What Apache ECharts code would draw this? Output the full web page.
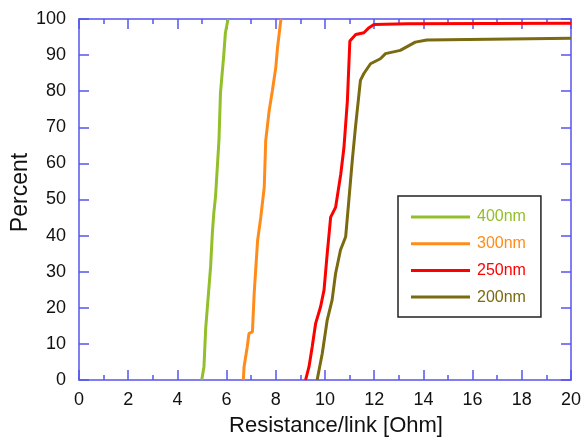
<!DOCTYPE html>
<html><head><meta charset="utf-8">
<script src="https://cdn.jsdelivr.net/npm/echarts@6/dist/echarts.min.js"></script>
<style>html,body{margin:0;padding:0;background:#fff}#c{width:583px;height:440px}</style>
</head><body><div id="c"></div>
<script>
const names = ['400nm', '300nm', '250nm', '200nm'];
const colors = ['#92bf2a', '#ff8c1a', '#ff0000', '#7a6a10'];
const x400 = [4.99, 5.08, 5.15, 5.21, 5.35, 5.42, 5.48, 5.55, 5.69, 5.75, 5.82, 5.88, 5.95, 6.06];
const y400 = [0, 3.7, 14.3, 14.8, 31.4, 40.6, 46.2, 50.8, 66.5, 79.4, 85, 89.6, 96.1, 100];
const x300 = [6.68, 6.71, 6.84, 6.91, 7.05, 7.12, 7.26, 7.39, 7.53, 7.59, 7.73, 7.86, 8.00, 8.07, 8.20, 8.23];
const y300 = [0, 3.7, 9.2, 12.9, 13.3, 23.9, 38.6, 45.1, 53.4, 66.3, 74.6, 80.1, 86.6, 92.1, 99.5, 100];
const x250 = [9.21, 9.35, 9.48, 9.62, 9.82, 9.96, 10.09, 10.23, 10.43, 10.64, 10.77, 10.91, 11.01, 11.25, 11.58, 11.79, 11.99, 13.34, 20];
const y250 = [0, 3.7, 9.2, 15.7, 20.3, 24.9, 35, 45.1, 47.8, 57, 64.4, 77.3, 93.9, 95.7, 96.2, 97.6, 98.5, 98.7, 98.8];
const x200 = [9.68, 9.89, 10.09, 10.29, 10.43, 10.63, 10.84, 10.97, 11.11, 11.24, 11.44, 11.58, 11.85, 12.25, 12.46, 13.06, 13.67, 14.14, 20];
const y200 = [0, 7.4, 16.6, 22.2, 29.5, 36, 39.7, 49.8, 60.9, 70.1, 83, 84.9, 87.6, 89, 90.4, 91.3, 93.6, 94.2, 94.7];
const xs = [x400, x300, x250, x200];
const ys = [y400, y300, y250, y200];

const axisColor = '#5555ee';
const font = 'Arial, "Liberation Sans", sans-serif';
const chart = echarts.init(document.getElementById('c'));
const baseX = {
  type: 'value', min: 0, max: 20, interval: 2,
  axisLine: {show: true, onZero: false, lineStyle: {color: axisColor, width: 1.5}},
  axisTick: {show: true, inside: true, length: 10, lineStyle: {color: axisColor, width: 1.5}},
  minorTick: {show: true, splitNumber: 2, length: 5, lineStyle: {color: axisColor, width: 1.5}},
  splitLine: {show: false}, minorSplitLine: {show: false}
};
const baseY = {
  type: 'value', min: 0, max: 100, interval: 10,
  axisLine: {show: true, onZero: false, lineStyle: {color: axisColor, width: 1.5}},
  axisTick: {show: true, inside: true, length: 10, lineStyle: {color: axisColor, width: 1.5}},
  splitLine: {show: false}
};
chart.setOption({
  animation: false,
  grid: {left: 79, right: 12, top: 19, bottom: 60, containLabel: false, outerBoundsMode: 'none'},
  xAxis: [
    Object.assign({}, baseX, {position: 'bottom',
      axisLabel: {color: '#111', fontSize: 18, fontFamily: font, margin: 11},
      name: 'Resistance/link [Ohm]', nameLocation: 'middle', nameGap: 35, nameMoveOverlap: false,
      nameTextStyle: {color: '#111', fontSize: 22, fontFamily: font, padding: [0, 0, 0, 22]}}),
    Object.assign({}, baseX, {position: 'top', axisLabel: {show: false}})
  ],
  yAxis: [
    Object.assign({}, baseY, {position: 'left',
      axisLabel: {color: '#111', fontSize: 18, fontFamily: font, margin: 13},
      name: 'Percent', nameLocation: 'middle', nameGap: 47, nameMoveOverlap: false,
      nameTextStyle: {color: '#111', fontSize: 23, fontFamily: font, padding: [0, 0, 0, 14]}}),
    Object.assign({}, baseY, {position: 'right', axisLabel: {show: false}})
  ],
  legend: {
    orient: 'vertical', left: 398, top: 196,
    padding: [13, 15, 12, 13], itemGap: 10.7,
    borderColor: '#222', borderWidth: 1.5,
    icon: 'rect', itemWidth: 59, itemHeight: 3,
    data: names.map((n, i) => ({name: n, textStyle: {color: colors[i], fontSize: 16, lineHeight: 16, fontFamily: font}})),
    textStyle: {fontSize: 16, lineHeight: 16, fontFamily: font, padding: [0, 0, 0, 2]}
  },
  series: names.map((n, i) => ({
    name: n, type: 'line', xAxisIndex: 0, yAxisIndex: 0,
    data: xs[i].map((v, j) => [v, ys[i][j]]),
    showSymbol: false, symbol: 'none',
    lineStyle: {color: colors[i], width: 3},
    itemStyle: {color: colors[i]}
  }))
});
</script></body></html>
